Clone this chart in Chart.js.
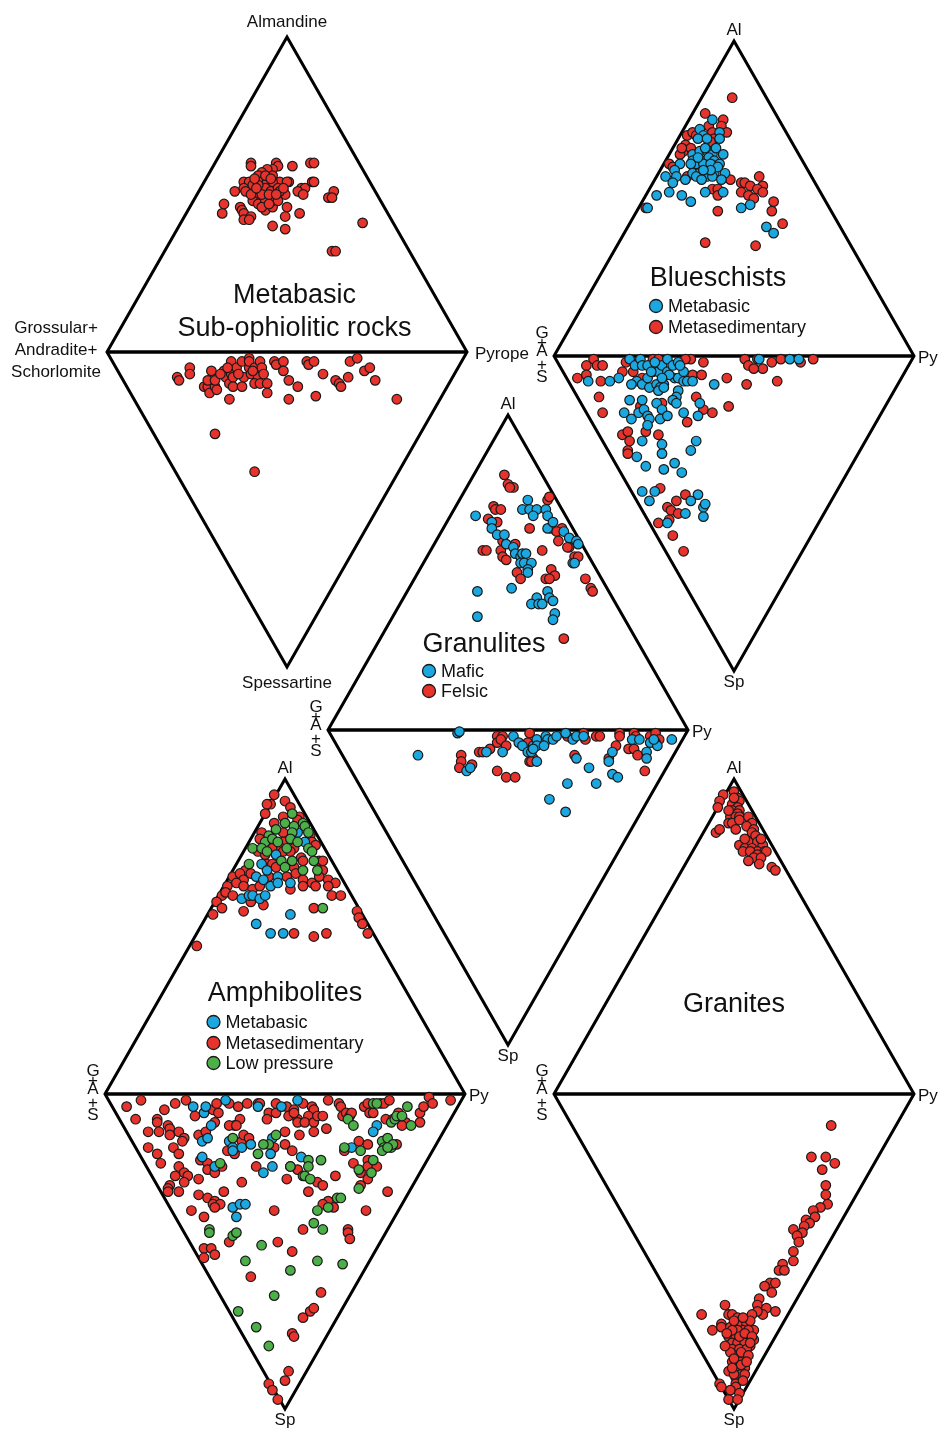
<!DOCTYPE html>
<html>
<head>
<meta charset="utf-8">
<script src="https://cdn.jsdelivr.net/npm/chart.js@4.4.1/dist/chart.umd.min.js"></script>
<style>
  html, body { margin: 0; padding: 0; background: #fff; width: 939px; height: 1430px; overflow: hidden; position: relative; }
  canvas { position: absolute; }
</style>
</head>
<body>
<canvas id="ophiolite" width="600" height="720"></canvas>
<canvas id="blueschist" width="600" height="720"></canvas>
<canvas id="granulite" width="600" height="720"></canvas>
<canvas id="amphibolite" width="600" height="720"></canvas>
<canvas id="granite" width="600" height="720"></canvas>
<script>
// each point is [x, y] inside its diamond: x -100 (left vertex) .. 100 (right vertex),
// y 100 (top vertex) .. -100 (bottom vertex); 0 is the joint G+A+S / Py edge

// Metabasic sub-ophiolitic rocks
const ophiolitePts = [
  [-20,60],[-20,59],[-6,60],[-5,59],[-8,58],[3,59],[13,60],[15,60],[-11,58],[-14,57],[-16,56],[-24,54],[-21,54],[-29,51],[-24,52],[1,54],[-4,54],[8,52],[10,52],[6,51],[9,50],[14,54],[15,54],[26,51],[23,49],[25,49],[-35,47],[-36,44],[-26,46],[-25,45],[-24,44],[-24,42],[-20,43],[-21,42],[-12,45],[-8,46],[0,46],[7,44],[-1,43],[-8,40],[-1,39],[42,41],[25,32],[27,32],
  [-19,53],[-15,54],[-11,54],[-8,54],[-15,51],[-12,52],[-19,50],[-9,51],[-5,52],[-2,51],[-16,49],[-13,49],[-9,49],[-5,49],[-1,50],[-19,48],[-16,47],[-12,48],[-8,48],[-5,48],[-14,46],[-10,47],[-4,51],[-8,56],[-12,56],[-16,53],[-23,51],[-20,50],[0,54],[-2,52],[-18,55],[-9,55],[-14,50],[-10,50],[-6,50],[-17,52],
  [-61,-8],[-60,-9],[-54,-5],[-54,-7],[-46,-11],[-44,-11],[-43,-13],[-40,-11],[-39,-12],[-44,-9],[-42,-6],[-40,-9],[-35,-6],[-34,-8],[-31,-3],[-31,-7],[-32,-10],[-30,-8],[-30,-11],[-32,-15],[-28,-5],[-25,-3],[-24,-8],[-25,-11],[-21,-2],[-21,-5],[-20,-7],[-21,-3],[-18,-5],[-16,-8],[-18,-10],[-15,-3],[-14,-5],[-13,-7],[-15,-10],[-11,-10],[-11,-13],[-7,-3],[-6,-4],[-2,-3],[-2,-6],[1,-9],[1,-15],[6,-11],[11,-3],[12,-4],[15,-3],[20,-7],[16,-14],[27,-9],[29,-10],[30,-11],[34,-8],[35,-3],[39,-2],[43,-6],[46,-5],[49,-9],[61,-15],[-40,-26],[-18,-38],[-37,-7],[-33,-5],[-27,-7],[-19,-6]
];

// Blueschists
const blueschistMetased = [
  [-1,82],[-16,77],[-6,75],[-14,73],[-7,73],[-4,71],[-26,70],[-23,71],[-21,70],[-12,71],[-11,69],[-27,67],[-28,65],[-24,66],[-13,68],[-30,64],[-29,66],[-36,61],[-34,60],[-26,57],[-2,56],[4,55],[6,55],[9,54],[14,57],[16,54],[13,53],[16,52],[4,52],[8,51],[11,50],[-12,53],[-9,53],[-9,51],[-49,47],[-9,46],[22,49],[21,46],[27,42],[-16,36],[12,35],
  [-78,-1],[-82,-3],[-76,-3],[-73,-3],[-87,-7],[-82,-6],[-74,-8],[-62,-5],[-60,-2],[-56,-5],[-51,-7],[-45,-1],[-42,-1],[-24,-1],[-27,-1],[-23,-6],[-18,-6],[-17,-2],[-75,-13],[-73,-18],[-52,-16],[-40,-15],[-21,-13],[-17,-17],[-12,-18],[-26,-21],[-3,-16],[-49,-24],[-62,-25],[-59,-24],[-58,-27],[-42,-25],[-59,-30],[-59,-31],[-41,-42],[-27,-44],[-32,-46],[-37,-48],[-35,-49],[-31,-50],[-36,-52],[-42,-53],[-34,-57],[-28,-62],[6,-1],[8,-3],[13,-1],[16,-4],[21,-2],[24,-8],[26,-1],[37,-2],[44,-1],[11,-4],[-4,-7],[7,-9]
];
const blueschistMetabasic = [
  [-12,75],[-19,72],[-8,71],[-17,70],[-8,69],[-20,69],[-15,69],[-23,64],[-19,65],[-15,65],[-12,64],[-23,62],[-18,62],[-14,63],[-11,62],[-8,61],[-21,61],[-17,61],[-13,61],[-24,61],[-30,61],[-33,59],[-23,58],[-19,58],[-14,58],[-11,58],[-38,57],[-32,57],[-27,56],[-21,57],[-15,57],[-12,57],[-34,55],[-18,56],[-43,51],[-36,52],[-29,51],[-24,49],[-16,52],[-6,52],[-48,47],[4,47],[9,48],[18,41],[22,39],[-10,66],[-6,64],[-16,66],[-9,60],[-5,58],[-13,59],[-17,59],[-7,56],[-20,63],
  [-81,-8],[-69,-8],[-64,-7],[-58,-1],[-55,-3],[-52,-1],[-51,-3],[-48,-3],[-54,-8],[-57,-9],[-51,-9],[-47,-10],[-48,-7],[-45,-5],[-42,-5],[-43,-9],[-39,-9],[-40,-3],[-37,-5],[-37,-1],[-34,-3],[-33,-7],[-31,-2],[-31,-7],[-28,-5],[-28,-8],[-26,-8],[-23,-8],[-41,-10],[-42,-11],[-39,-10],[-31,-11],[-32,-13],[-11,-9],[-58,-14],[-51,-14],[-43,-15],[-40,-17],[-34,-14],[-32,-15],[-19,-15],[-20,-19],[-28,-18],[-61,-18],[-57,-20],[-53,-18],[-50,-17],[-48,-19],[-47,-20],[-41,-20],[-37,-19],[-48,-22],[-51,-27],[-40,-28],[-40,-31],[-21,-27],[-24,-30],[-54,-32],[-49,-35],[-33,-34],[-39,-36],[-29,-37],[-51,-43],[-44,-43],[-47,-46],[-20,-44],[-24,-46],[-17,-48],[-16,-47],[-27,-50],[-17,-51],[-37,-53],[14,-1],[31,-1],[36,-1],[-44,-2],[-36,-6],[-30,-3],[-40,-7],[-46,-5]
];

// Granulites
const granuliteFelsic = [
  [-2,81],[0,78],[3,77],[1,77],[22,73],[23,74],[-8,71],[-7,70],[-4,70],[-11,67],[-6,66],[12,64],[24,64],[30,64],[27,63],[-3,60],[4,59],[28,60],[34,58],[-14,57],[-12,57],[-4,57],[-3,55],[-1,54],[19,57],[33,58],[37,55],[39,55],[5,50],[7,48],[24,51],[26,49],[21,48],[23,48],[43,48],[46,45],[47,44],[31,29],
  [-26,-8],[-26,-10],[-20,-11],[-27,-12],[-16,-7],[-14,-7],[-10,-6],[-6,-2],[-6,-4],[-3,-2],[-4,-3],[-1,-5],[-6,-13],[-1,-15],[4,-15],[12,-1],[11,-4],[12,-10],[14,-9],[13,-10],[33,-2],[42,-1],[43,-3],[37,-8],[49,-2],[51,-2],[62,-1],[62,-2],[60,-5],[56,-9],[70,-1],[71,-2],[67,-6],[70,-6],[72,-8],[76,-13],[79,-2],[82,-1],[84,-3],[82,-4]
];
const granuliteMafic = [
  [11,73],[8,70],[12,70],[16,70],[14,68],[21,70],[22,68],[-18,68],[-9,66],[-9,64],[22,64],[25,66],[-6,62],[-2,62],[-1,59],[3,58],[31,63],[34,61],[38,60],[39,59],[4,56],[7,55],[8,56],[10,56],[7,53],[9,53],[13,53],[11,51],[11,50],[36,53],[37,53],[-17,44],[2,45],[22,44],[16,42],[13,40],[17,40],[19,40],[23,42],[25,41],[26,37],[25,35],[-17,36],
  [-50,-8],[-28,-1],[-27,-0.5],[-23,-13],[-21,-12],[-12,-7],[-3,-7],[3,-2],[6,-4],[8,-5],[11,-7],[13,-7],[14,-5],[16,-3],[16,-5],[21,-2],[22,-3],[20,-5],[25,-3],[27,-2],[16,-10],[14,-6],[32,-1],[36,-3],[38,-2],[42,-2],[38,-9],[45,-12],[33,-17],[49,-17],[23,-22],[32,-26],[58,-7],[56,-10],[58,-14],[61,-15],[69,-3],[73,-3],[77,-7],[77,-9],[79,-4],[83,-5],[81,-3],[91,-3]
];

// Amphibolites
const amphiboliteMetased = [
  [-6,95],[-8,92],[-10,92],[-11,89],[0,93],[3,91],[-6,86],[-1,88],[8,88],[7,87],[-13,83],[-1,83],[14,82],[-14,81],[-1,80],[15,80],[-7,78],[-2,78],[5,78],[17,79],[-15,77],[-11,76],[-1,77],[3,77],[9,75],[10,74],[19,74],[21,74],[-22,71],[-10,73],[-7,73],[-5,72],[5,72],[21,71],[-29,69],[-25,70],[-23,68],[-19,70],[-9,69],[1,69],[6,70],[10,68],[15,67],[19,69],[24,68],[28,67],[-32,66],[-27,67],[-23,66],[-18,65],[-14,66],[3,65],[10,66],[17,66],[24,66],[-35,63],[-33,64],[-29,63],[-12,60],[-19,61],[26,63],[31,63],[-38,61],[-35,59],[-40,57],[-23,58],[16,59],[40,58],[41,56],[43,54],[46,51],[5,51],[16,50],[23,51],[-49,47],
  [-88,-4],[-80,-2],[-83,-8],[-76,-12],[-76,-17],[-71,-8],[-71,-9],[-70,-12],[-67,-5],[-65,-10],[-64,-11],[-64,-13],[-61,-3],[-59,-12],[-56,-14],[-57,-15],[-55,-2],[-62,-17],[-71,-19],[-69,-22],[-59,-19],[-50,-7],[-40,-5],[-37,-6],[-38,-3],[-31,-3],[-26,-4],[-21,-3],[-25,-8],[-28,-10],[-31,-10],[-27,-10],[-39,-9],[-48,-13],[-44,-12],[-32,-18],[-28,-19],[-24,-15],[-23,-13],[-20,-14],[-15,-3],[-14,-3],[-9,-6],[-10,-8],[-5,-6],[1,-4],[2,-7],[5,-5],[7,-8],[-5,-3],[-6,-17],[0,-12],[0,-16],[4,-18],[-47,-21],[-43,-22],[-43,-24],[-39,-25],[-35,-23],[-16,-23],[7,-24],[-59,-23],[-56,-25],[-54,-26],[-61,-26],[-56,-28],[-64,-29],[-65,-30],[-65,-31],[-59,-31],[-48,-27],[-24,-28],[1,-27],[-48,-32],[-43,-33],[-39,-34],[-40,-35],[-36,-35],[-34,-31],[-39,-36],[-52,-37],[-45,-39],[-6,-37],[-31,-47],[-4,-47],[4,-50],[10,-43],[-45,-49],[-41,-49],[-45,-52],[-39,-51],
  [10,-3],[5,-6],[15,-4],[16,-5],[13,-7],[7,-9],[11,-9],[16,-9],[16,-12],[18,-7],[21,-7],[23,-11],[8,-13],[24,-2],[30,-3],[31,-4],[32,-7],[34,-6],[36,-7],[37,-6],[44,-4],[46,-3],[47,-6],[49,-6],[53,-3],[55,-3],[58,-2],[56,-8],[60,-8],[63,-6],[67,-9],[65,-10],[75,-6],[75,-9],[77,-4],[80,-1],[82,-3],[92,-2],[62,-16],[41,-15],[46,-16],[33,-18],[3,-23],[18,-28],[21,-29],[28,-26],[46,-21],[46,-23],[38,-22],[51,-23],[42,-25],[46,-27],[42,-29],[13,-31],[57,-31],[24,-34],[21,-35],[27,-36],[45,-37],[35,-43],[35,-44],[36,-46],
  [-19,-58],[20,-63],[14,-69],[16,-68],[10,-71],[4,-76],[5,-77],[2,-88],[0,-91],[-9,-92],[-7,-94],[-4,-97]
];
const amphiboliteMetabasic = [
  [7,83],[11,80],[-5,76],[-13,73],[-10,71],[-16,69],[-12,68],[-4,69],[-8,66],[-4,67],[3,67],[-24,62],[-20,63],[-18,63],[-14,62],[-11,63],[3,57],[-16,54],[-8,51],[-1,51],
  [-51,-4],[-45,-6],[-44,-4],[-33,-2],[-41,-10],[-46,-15],[-43,-14],[-31,-15],[-29,-17],[-24,-17],[-29,-18],[-19,-16],[-15,-4],[-2,-4],[7,-2],[-7,-14],[-8,-19],[-46,-20],[-39,-23],[-12,-25],[-7,-23],[-29,-36],[-25,-35],[-22,-35],[-27,-39],[51,-10],[49,-12],[37,-17],[9,-20]
];
const amphiboliteLowP = [
  [4,89],[0,86],[5,85],[10,86],[11,85],[-9,82],[-5,84],[4,83],[13,83],[-11,80],[-7,81],[-4,80],[3,81],[7,80],[-18,78],[-13,78],[-10,77],[1,78],[13,78],[15,77],[-2,74],[4,74],[16,74],[-20,73],[0,72],[10,71],[18,71],[21,59],
  [-29,-14],[-5,-13],[-9,-16],[-12,-16],[-15,-19],[-36,-22],[3,-23],[10,-26],[-42,-43],[-42,-44],[-29,-45],[-27,-44],[-13,-48],[35,-8],[38,-10],[49,-3],[51,-3],[59,-9],[61,-8],[62,-7],[65,-7],[68,-4],[70,-10],[54,-15],[57,-14],[55,-17],[59,-17],[60,-16],[54,-18],[57,-17],[33,-17],[42,-18],[13,-21],[13,-23],[20,-21],[11,-26],[14,-27],[49,-21],[41,-24],[48,-25],[41,-30],[24,-36],[29,-33],[31,-33],[18,-37],[16,-41],[21,-43],[-22,-53],[3,-56],[18,-53],[32,-54],[-6,-64],[-26,-69],[-16,-74],[-9,-80]
];

// Granites
const granitePts = [
  [-6,95],[-8,93],[-9,91],[0,96],[2,94],[3,93],[-1,92],[2,91],[-1,90],[3,90],[2,89],[-2,88],[1,88],[3,88],[-3,86],[-1,86],[3,87],[8,88],[10,86],[7,85],[11,84],[-10,83],[-8,84],[10,83],[12,82],[8,80],[13,80],[3,79],[6,78],[16,79],[10,78],[13,77],[17,77],[5,77],[9,77],[13,76],[18,77],[11,75],[15,75],[8,74],[14,73],[21,72],[23,71],[0,94],[-3,90],[1,84],[15,81],[6,81],
  [54,-10],[43,-20],[51,-20],[56,-22],[49,-24],[51,-29],[51,-32],[52,-35],[48,-36],[44,-37],[45,-39],[40,-40],[42,-41],[39,-42],[33,-43],[38,-44],[35,-45],[36,-47],[33,-50],[33,-53],[27,-54],[25,-56],[28,-56],[20,-60],[23,-60],[17,-61],[21,-63],[14,-65],[13,-67],[18,-68],[16,-70],[13,-69],[23,-69],[10,-70],[-5,-67],[-18,-70],[-3,-70],[-1,-70],[-7,-73],[-12,-75],[-7,-74],[2,-71],[4,-73],[7,-73],[9,-72],[11,-75],[-3,-77],[1,-77],[4,-77],[8,-77],[11,-78],[-1,-79],[2,-79],[6,-79],[9,-80],[-1,-81],[3,-81],[7,-81],[2,-83],[5,-83],[-1,-85],[3,-85],[6,-87],[2,-88],[1,-90],[4,-89],[6,-89],[1,-92],[1,-93],[-8,-92],[-7,-93],[-3,-97],[-2,-74],[5,-75],[2,-75],[8,-75],[3,-77],[-1,-75],
  [0,-72],[5,-71],[-4,-76],[6,-76],[10,-77],[-2,-82],[4,-82],[8,-83],[0,-84],[4,-86],[-3,-88],[0,-89],[5,-91],[-2,-94],[3,-95],[7,-85],[9,-79],[-5,-80],[2,-97],[-1,-87]
];

const RED = "#e8322c";
const BLUE = "#1ba8e0";
const GREEN = "#4caf48";
const FONT = "'Liberation Sans', Arial, Helvetica, sans-serif";

const diagrams = [
  {
    id: "ophiolite", cx: 286.5, cy: 352,
    series: [{ label: "Metabasic sub-ophiolitic rocks", pts: ophiolitePts, color: RED }],
    title: ["Metabasic", "Sub-ophiolitic rocks"], titleX: 7.5, titleY: [-56, -23],
    long: true
  },
  {
    id: "blueschist", cx: 734, cy: 356,
    series: [
      { label: "Metabasic", pts: blueschistMetabasic, color: BLUE },
      { label: "Metasedimentary", pts: blueschistMetased, color: RED }
    ],
    title: ["Blueschists"], titleX: -16, titleY: [-77],
    legend: [["Metabasic", BLUE], ["Metasedimentary", RED]], legX: -78, legY: [-50, -29]
  },
  {
    id: "granulite", cx: 508, cy: 730,
    series: [
      { label: "Mafic", pts: granuliteMafic, color: BLUE },
      { label: "Felsic", pts: granuliteFelsic, color: RED }
    ],
    title: ["Granulites"], titleX: -24, titleY: [-85],
    legend: [["Mafic", BLUE], ["Felsic", RED]], legX: -79, legY: [-59, -39]
  },
  {
    id: "amphibolite", cx: 284.5, cy: 1094,
    series: [
      { label: "Low pressure", pts: amphiboliteLowP, color: GREEN },
      { label: "Metabasic", pts: amphiboliteMetabasic, color: BLUE },
      { label: "Metasedimentary", pts: amphiboliteMetased, color: RED }
    ],
    title: ["Amphibolites"], titleX: 0, titleY: [-100],
    legend: [["Metabasic", BLUE], ["Metasedimentary", RED], ["Low pressure", GREEN]], legX: -71.5, legY: [-72, -51, -31]
  },
  {
    id: "granite", cx: 734, cy: 1094,
    series: [{ label: "Granites", pts: granitePts, color: RED }],
    title: ["Granites"], titleX: 0, titleY: [-89]
  }
];

function diamondPlugin(d) {
  return {
    id: "diamond",
    beforeDatasetsDraw(chart) {
      const { ctx, scales: { x, y } } = chart;
      const l = x.getPixelForValue(-100), r = x.getPixelForValue(100), c = x.getPixelForValue(0);
      const t = y.getPixelForValue(100), b = y.getPixelForValue(-100), m = y.getPixelForValue(0);
      ctx.save();
      ctx.strokeStyle = "#000";
      ctx.lineJoin = "miter";
      ctx.lineWidth = 3;
      ctx.beginPath();
      ctx.moveTo(c, t); ctx.lineTo(r, m); ctx.lineTo(c, b); ctx.lineTo(l, m); ctx.closePath();
      ctx.stroke();
      ctx.lineWidth = 3.6;
      ctx.beginPath();
      ctx.moveTo(l, m); ctx.lineTo(r, m);
      ctx.stroke();
      ctx.restore();
    },
    afterDatasetsDraw(chart) {
      const { ctx, scales: { x, y } } = chart;
      const l = x.getPixelForValue(-100), r = x.getPixelForValue(100), c = x.getPixelForValue(0);
      const t = y.getPixelForValue(100), b = y.getPixelForValue(-100), m = y.getPixelForValue(0);
      ctx.save();
      ctx.fillStyle = "#111";
      ctx.textBaseline = "middle";
      ctx.font = "17px " + FONT;
      ctx.textAlign = "center";
      if (d.long) {
        ctx.fillText("Almandine", c, t - 15);
        ctx.fillText("Spessartine", c, b + 16);
        ctx.fillText("Grossular+", l - 51, m - 24);
        ctx.fillText("Andradite+", l - 51, m - 2);
        ctx.fillText("Schorlomite", l - 51, m + 20);
        ctx.textAlign = "left";
        ctx.fillText("Pyrope", r + 8, m + 2);
      } else {
        ctx.fillText("Al", c, t - 11);
        ctx.fillText("Sp", c, b + 11);
        const gx = l - 12;
        ctx.fillText("G", gx, m - 23);
        ctx.fillText("+", gx, m - 13);
        ctx.fillText("A", gx, m - 5);
        ctx.fillText("+", gx, m + 9);
        ctx.fillText("S", gx, m + 21);
        ctx.textAlign = "left";
        ctx.fillText("Py", r + 4, m + 2);
      }
      ctx.textAlign = "center";
      ctx.font = "27px " + FONT;
      d.title.forEach((s, i) => ctx.fillText(s, c + d.titleX, m + d.titleY[i]));
      if (d.legend) {
        ctx.font = "18px " + FONT;
        d.legend.forEach(([name, col], i) => {
          const lx = c + d.legX, ly = m + d.legY[i];
          ctx.beginPath();
          ctx.arc(lx, ly, 6.5, 0, Math.PI * 2);
          ctx.fillStyle = col;
          ctx.fill();
          ctx.lineWidth = 1.3;
          ctx.strokeStyle = "#1a1a1a";
          ctx.stroke();
          ctx.fillStyle = "#111";
          ctx.textAlign = "left";
          ctx.fillText(name, lx + 12, ly + 1);
        });
      }
      ctx.restore();
    }
  };
}

diagrams.forEach(d => {
  const cv = document.getElementById(d.id);
  cv.style.left = (d.cx - 300) + "px";
  cv.style.top = (d.cy - 360) + "px";
  new Chart(cv, {
    type: "scatter",
    data: {
      datasets: d.series.map(s => ({
        label: s.label,
        data: s.pts.map(p => ({ x: p[0], y: p[1] })),
        backgroundColor: s.color,
        borderColor: "#1a1a1a",
        borderWidth: 1.2,
        pointRadius: 4.8,
        clip: false
      }))
    },
    options: {
      responsive: false,
      animation: false,
      devicePixelRatio: 1,
      events: [],
      layout: { padding: { left: 120, right: 120, top: 45, bottom: 45 } },
      scales: {
        x: { type: "linear", min: -100, max: 100, display: false },
        y: { type: "linear", min: -100, max: 100, display: false }
      },
      plugins: { legend: { display: false }, tooltip: { enabled: false } }
    },
    plugins: [diamondPlugin(d)]
  });
});
</script>
</body>
</html>
